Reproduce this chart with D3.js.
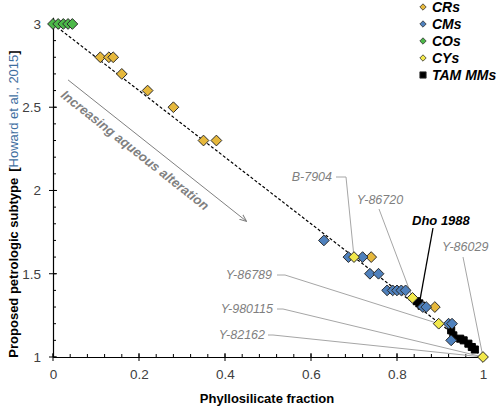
<!DOCTYPE html>
<html>
<head lang="en">
    <meta charset="UTF-8">
    <title></title>
    <script src="https://cdn.jsdelivr.net/npm/d3@7/dist/d3.min.js"></script>
    <style>
        body{margin:0;background:#fff;}
        text{font-family:"Liberation Sans",Arial,sans-serif;}
        .tick text{fill:#404040;font-size:13.5px;}
        .lbl{fill:#7f7f7f;font-size:12.5px;font-style:italic;}
    </style>
</head>
<body>
<script>
    // values
    var crX=[0.11,0.13,0.14,0.16,0.22,0.28,0.35,0.38,0.74,0.888];
    var crY=[2.8,2.8,2.8,2.7,2.6,2.5,2.3,2.3,1.6,1.3];
    var cmX=[0.63,0.687,0.72,0.737,0.757,0.777,0.79,0.80,0.81,0.82,0.86,0.868,0.92,0.928,0.926];
    var cmY=[1.7,1.6,1.6,1.5,1.5,1.4,1.4,1.4,1.4,1.4,1.3,1.3,1.2,1.2,1.1];
    var coX=[0,0.012,0.024,0.035,0.045];
    var coY=[3,3,3,3,3];
    var cyX=[0.7,0.836,0.897,1];
    var cyY=[1.6,1.355,1.2,1];
    var tamX=[0.846,0.852,0.857,0.926,0.931,0.947,0.955,0.966,0.974,0.981];
    var tamY=[1.335,1.322,1.308,1.16,1.13,1.11,1.1,1.08,1.06,1.045];
    var trendX=[0,1];
    var trendY=[3,1];
    var xTicks=[0,0.2,0.4,0.6,0.8,1];
    var yTicks=[1,1.5,2,2.5,3];
    var seriesNames=["CRs","CMs","COs","CYs","TAM MMs"];
    var seriesColors=["#e6b83c","#4f81bd","#4cb848","#f2e84b","#000000"];

    // annotation labels: name, target point, and label layout in px
    var annoNames=["B-7904","Y-86720","Dho 1988","Y-86029","Y-86789","Y-980115","Y-82162"];
    var annoTX=[0.7,0.836,0.852,1,0.897,1,1];
    var annoTY=[1.6,1.355,1.322,1,1.2,1,1];

    var W=499,H=407;
    var x=d3.scaleLinear().domain([0,1]).range([53,483]);
    var y=d3.scaleLinear().domain([1,3.04]).range([357,17.3]);

    var svg=d3.select("body").append("svg")
            .attr("width",W)
            .attr("height",H);

    var defs=svg.append("defs");
    defs.append("marker")
            .attr("id","ah")
            .attr("viewBox","0 0 10 10")
            .attr("refX",9).attr("refY",5)
            .attr("markerWidth",7).attr("markerHeight",7)
            .attr("orient","auto")
            .append("path")
            .attr("d","M0,1 L10,5 L0,9")
            .style("fill","none")
            .style("stroke","#808080")
            .style("stroke-width",1.4);

    // axes
    var xAxis=d3.axisBottom(x).tickValues(xTicks).tickSize(0).tickPadding(12)
            .tickFormat(function(d){return d3.format("")(+d.toFixed(1));});
    var yAxis=d3.axisLeft(y).tickValues(yTicks).tickSize(0).tickPadding(12)
            .tickFormat(function(d){return d3.format("")(+d.toFixed(1));});
    var gx=svg.append("g").attr("transform","translate(0,"+y(1)+")").call(xAxis);
    var gy=svg.append("g").attr("transform","translate("+x(0)+",0)").call(yAxis);
    gx.select(".domain").attr("stroke","#000").attr("stroke-width",1.2);
    gy.select(".domain").attr("stroke","#000").attr("stroke-width",1.2);

    // minor and major tick marks
    var xMinor=d3.range(0,1.0001,0.04);
    svg.append("g").selectAll("line").data(xMinor).enter().append("line")
            .attr("x1",function(d){return x(d);}).attr("x2",function(d){return x(d);})
            .attr("y1",y(1)-3).attr("y2",y(1))
            .style("stroke","#000");
    svg.append("g").selectAll("line").data(xTicks).enter().append("line")
            .attr("x1",function(d){return x(d);}).attr("x2",function(d){return x(d);})
            .attr("y1",y(1)-4).attr("y2",y(1)+4)
            .style("stroke","#000");
    var yMinor=d3.range(1,3.0001,0.1);
    svg.append("g").selectAll("line").data(yMinor).enter().append("line")
            .attr("y1",function(d){return y(d);}).attr("y2",function(d){return y(d);})
            .attr("x1",x(0)).attr("x2",x(0)+3)
            .style("stroke","#000");
    svg.append("g").selectAll("line").data(yTicks).enter().append("line")
            .attr("y1",function(d){return y(d);}).attr("y2",function(d){return y(d);})
            .attr("x1",x(0)-4).attr("x2",x(0)+4)
            .style("stroke","#000");

    // axis titles
    svg.append("text")
            .attr("x",267).attr("y",403)
            .attr("text-anchor","middle")
            .style("font-weight","bold").style("font-size","13px")
            .text("Phyllosilicate fraction");
    var yt=svg.append("text")
            .attr("transform","translate(18,204) rotate(-90)")
            .attr("text-anchor","middle")
            .style("font-size","13px");
    yt.append("tspan").style("font-weight","bold").text("Proposed petrologic subtype");
    yt.append("tspan").attr("dx",6).style("font-weight","bold").text("[");
    yt.append("tspan").style("fill","#3f6f9f").text("Howard et al., 2015");
    yt.append("tspan").style("font-weight","bold").text("]");

    // trend line
    var line=d3.line().x(function(d){return x(d[0]);}).y(function(d){return y(d[1]);});
    svg.append("path")
            .attr("d",line(d3.zip(trendX,trendY)))
            .style("fill","none")
            .style("stroke","#000")
            .style("stroke-width",1.2)
            .style("stroke-dasharray","3,2");

    // alteration arrow
    var arrX=[0.035,0.449], arrY=[2.664,1.817];
    svg.append("line")
            .attr("x1",x(arrX[0])).attr("y1",y(arrY[0]))
            .attr("x2",x(arrX[1])).attr("y2",y(arrY[1]))
            .style("stroke","#808080").style("stroke-width",1)
            .attr("marker-end","url(#ah)");
    var ang=Math.atan2(y(arrY[1])-y(arrY[0]),x(arrX[1])-x(arrX[0]));
    var ca=Math.cos(ang), sa=Math.sin(ang);
    var tx=x(arrX[0])+4*ca-18*sa, ty=y(arrY[0])+4*sa+18*ca;
    svg.append("text")
            .attr("transform","translate("+tx+","+ty+") rotate("+(ang*180/Math.PI)+")")
            .style("fill","#808080").style("font-weight","bold").style("font-style","italic")
            .style("font-size","13px")
            .text("Increasing aqueous alteration");

    // annotation leaders and labels (label anchor px, elbow px)
    var annoLayout=[
        {lx:332,ly:181,anchor:"end",sx:336,sy:177,ex:346,ey:177},
        {lx:380,ly:204,anchor:"middle",sx:379,sy:209,ex:379,ey:209},
        {lx:412,ly:225,anchor:"start",sx:433,sy:228,ex:433,ey:228},
        {lx:442,ly:251,anchor:"start",sx:463,sy:257,ex:463,ey:257},
        {lx:272,ly:279,anchor:"end",sx:277,sy:275,ex:285,ey:275},
        {lx:273,ly:313,anchor:"end",sx:277,sy:309,ex:283,ey:309},
        {lx:265,ly:339,anchor:"end",sx:268,sy:335,ex:273,ey:335}
    ];
    var annos=annoNames.map(function(n,i){
        return {name:n,tx:annoTX[i],ty:annoTY[i],l:annoLayout[i]};
    });
    svg.append("g").selectAll("path").data(annos).enter().append("path")
            .attr("d",function(d){
                var p=d3.path();
                p.moveTo(d.l.sx,d.l.sy);
                p.lineTo(d.l.ex,d.l.ey);
                p.lineTo(x(d.tx),y(d.ty));
                return p.toString();
            })
            .style("fill","none")
            .style("stroke",function(d){return d.name=="Dho 1988"?"#000":"#a6a6a6";})
            .style("stroke-width",function(d){return d.name=="Dho 1988"?1.3:1;});

    // points
    var diamond=d3.symbol().type(d3.symbolDiamond2).size(74);
    var square=d3.symbol().type(d3.symbolSquare).size(50);
    function drawSeries(xs,ys,color,sym,stroke){
        svg.append("g").selectAll("path")
                .data(d3.zip(xs,ys))
                .enter()
                .append("path")
                .attr("transform",function(d){return "translate("+x(d[0])+","+y(d[1])+")";})
                .attr("d",sym)
                .style("fill",color)
                .style("stroke",stroke)
                .style("stroke-width",1);
    }
    drawSeries(tamX,tamY,seriesColors[4],square,"#000");
    drawSeries(crX,crY,seriesColors[0],diamond,"#2b2b2b");
    drawSeries(cmX,cmY,seriesColors[1],diamond,"#2b2b2b");
    drawSeries(coX,coY,seriesColors[2],diamond,"#2b2b2b");
    drawSeries(cyX,cyY,seriesColors[3],diamond,"#2b2b2b");

    svg.append("g").selectAll("text").data(annos).enter().append("text")
            .attr("x",function(d){return d.l.lx;})
            .attr("y",function(d){return d.l.ly;})
            .attr("text-anchor",function(d){return d.l.anchor;})
            .attr("class",function(d){return d.name=="Dho 1988"?"":"lbl";})
            .style("font-weight",function(d){return d.name=="Dho 1988"?"bold":null;})
            .style("font-style","italic")
            .style("font-size",function(d){return d.name=="Dho 1988"?"13px":null;})
            .text(function(d){return d.name;});

    // legend
    var leg=svg.append("g").attr("transform","translate(423,7)");
    var li=leg.selectAll("g").data(seriesNames).enter().append("g")
            .attr("transform",function(d,i){return "translate(0,"+(i*17)+")";});
    li.append("path")
            .attr("d",function(d,i){
                return i==4?d3.symbol().type(d3.symbolSquare).size(40)():d3.symbol().type(d3.symbolDiamond2).size(26)();
            })
            .style("fill",function(d,i){return seriesColors[i];})
            .style("stroke","#333")
            .style("stroke-width",0.8);
    li.append("text")
            .attr("x",9).attr("y",5)
            .style("font-weight","bold").style("font-style","italic")
            .style("font-size","14px")
            .text(function(d){return d;});
</script>
</body>
</html>
